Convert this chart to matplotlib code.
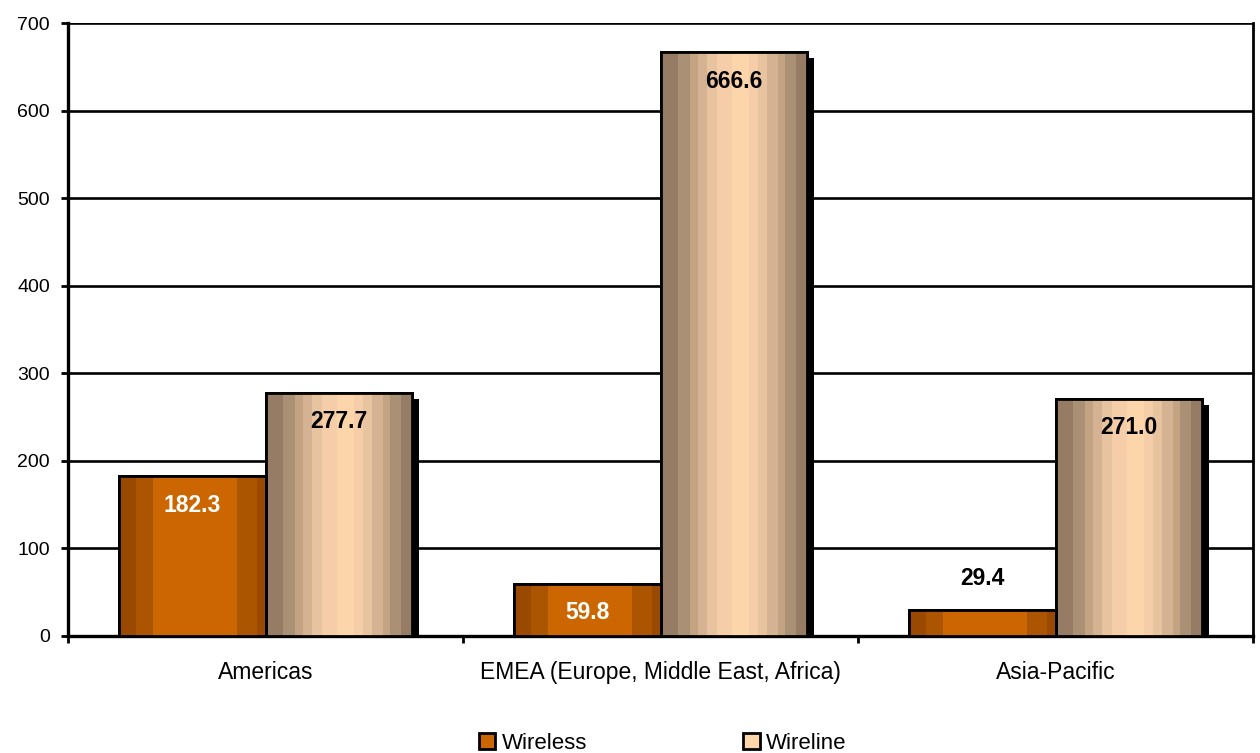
import numpy as np
import matplotlib.pyplot as plt
from matplotlib import patheffects as pe
from matplotlib.colors import to_rgb

plt.rcParams['font.family'] = ['Liberation Sans', 'DejaVu Sans']

regions = ["Americas", "EMEA (Europe, Middle East, Africa)", "Asia-Pacific"]
wireless = [182.3, 59.8, 29.4]
wireline = [277.7, 666.6, 271.0]
yticks = [0, 100, 200, 300, 400, 500, 600, 700]

# colour bands across each bar (left -> right), fake cylinder shading
wl_bands = [("#994a00", 0.115), ("#ab5500", 0.115), ("#cc6600", 0.57),
            ("#ab5500", 0.14), ("#994a00", 0.06)]
wn_bands = [("#977c65", 0.115), ("#aa9075", 0.08), ("#c4a383", 0.057),
            ("#d5b292", 0.062), ("#e8c3a0", 0.064), ("#f5cda8", 0.108),
            ("#fdd5ab", 0.11), ("#f5cda8", 0.062), ("#e8c3a0", 0.062),
            ("#d5b292", 0.075), ("#c4a383", 0.046), ("#aa9075", 0.075),
            ("#977c65", 0.084)]


def band_image(bands, n=400):
    cols = []
    for c, f in bands:
        cols += [to_rgb(c)] * max(1, int(round(f * n)))
    return np.array(cols)[None, :, :]


fig = plt.figure(figsize=(12.6, 7.53), dpi=100)
ax = fig.add_axes([68 / 1260, 1 - 636 / 753, (1253 - 68) / 1260, (636 - 23) / 753])

x = np.arange(len(regions))
w = 0.37
shadow = [pe.SimplePatchShadow(offset=(5, -4.5), shadow_rgbFace='black', alpha=1.0), pe.Normal()]

for vals, off, bands, face in [(wireless, -w / 2, wl_bands, "#cc6600"),
                               (wireline, w / 2, wn_bands, "#fdd5ab")]:
    bars = ax.bar(x + off, vals, w, color=face, edgecolor='black', linewidth=2, zorder=3)
    img = band_image(bands)
    for b in bars:
        b.set_path_effects(shadow)
        x0, y0 = b.get_x(), b.get_y()
        im = ax.imshow(img, extent=(x0, x0 + b.get_width(), y0, y0 + b.get_height()),
                       aspect='auto', interpolation='nearest', zorder=3.1)
        im.set_clip_path(b)
        # edge on top of image
        ax.bar(b.get_x() + b.get_width() / 2, b.get_height(), b.get_width(),
               facecolor='none', edgecolor='black', linewidth=2, zorder=3.2)

# value labels
for i in range(len(regions)):
    v = wireless[i]
    if v > 40:
        ax.annotate(f"{v:.1f}", (x[i] - w / 2, v), xytext=(0, -21), textcoords='offset points',
                    ha='center', va='center', color='white', fontsize=16.5, fontweight='bold', zorder=5)
    else:
        ax.annotate(f"{v:.1f}", (x[i] - w / 2, v), xytext=(0, 23), textcoords='offset points',
                    ha='center', va='center', color='black', fontsize=16.5, fontweight='bold', zorder=5)
    v = wireline[i]
    ax.annotate(f"{v:.1f}", (x[i] + w / 2, v), xytext=(0, -21), textcoords='offset points',
                ha='center', va='center', color='black', fontsize=16.5, fontweight='bold', zorder=5)

ax.set_xlim(-0.5, 2.5)
ax.set_ylim(0, 700)
ax.set_yticks(yticks)
ax.yaxis.grid(True, color='black', linewidth=1.9, zorder=0)
ax.set_axisbelow(True)
ax.set_xticks(x)
ax.set_xticklabels(regions, fontsize=16.5)
ax.set_xticks([-0.5, 0.5, 1.5, 2.5], minor=True)
ax.tick_params(axis='x', which='major', length=0, pad=18)
ax.tick_params(axis='x', which='minor', length=5, width=2, direction='out')
ax.tick_params(axis='y', length=5, width=2, direction='out', labelsize=14, pad=8)
for s in ['left', 'bottom']:
    ax.spines[s].set_linewidth(2.4)
ax.spines['right'].set_linewidth(2)
ax.spines['top'].set_visible(False)

h1 = plt.Rectangle((0, 0), 1, 1, facecolor="#cc6600", edgecolor='black', linewidth=2)
h2 = plt.Rectangle((0, 0), 1, 1, facecolor="#fdd5ab", edgecolor='black', linewidth=2)
fig.legend([h1, h2], ["Wireless", "Wireline"], loc='lower center', bbox_to_anchor=(0.526, -0.028),
           ncol=2, frameon=False, fontsize=16, handlelength=0.75, handleheight=0.75,
           handletextpad=0.3, columnspacing=7.0)

fig.savefig("out.png", dpi=100)
